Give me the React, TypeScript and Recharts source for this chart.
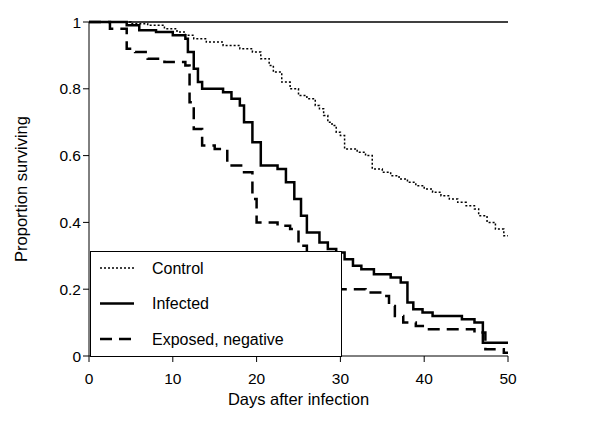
import { LineChart, Line, XAxis, YAxis, ReferenceLine } from "recharts";

// Kaplan-Meier style survival curves
const control = [
  { day: 0, p: 1 }, { day: 5, p: 0.995 }, { day: 7, p: 0.99 }, { day: 9, p: 0.98 },
  { day: 10.5, p: 0.97 }, { day: 11.5, p: 0.96 }, { day: 12.5, p: 0.95 }, { day: 14, p: 0.94 },
  { day: 16, p: 0.93 }, { day: 18, p: 0.92 }, { day: 19.5, p: 0.91 }, { day: 20.5, p: 0.89 },
  { day: 21.5, p: 0.87 }, { day: 22, p: 0.85 }, { day: 23, p: 0.82 }, { day: 24, p: 0.8 },
  { day: 25, p: 0.78 }, { day: 26, p: 0.77 }, { day: 27, p: 0.75 }, { day: 27.5, p: 0.74 },
  { day: 28, p: 0.72 }, { day: 28.5, p: 0.7 }, { day: 29, p: 0.69 }, { day: 29.5, p: 0.67 },
  { day: 30, p: 0.66 }, { day: 30.5, p: 0.62 }, { day: 32, p: 0.61 }, { day: 33, p: 0.6 },
  { day: 33.8, p: 0.56 }, { day: 35, p: 0.55 }, { day: 36, p: 0.54 }, { day: 37, p: 0.53 },
  { day: 38, p: 0.52 }, { day: 39, p: 0.51 }, { day: 40, p: 0.5 }, { day: 41, p: 0.49 },
  { day: 42, p: 0.48 }, { day: 43, p: 0.47 }, { day: 44, p: 0.46 }, { day: 45, p: 0.45 },
  { day: 46, p: 0.44 }, { day: 46.5, p: 0.42 }, { day: 47.5, p: 0.4 }, { day: 48.5, p: 0.38 },
  { day: 49.5, p: 0.36 }, { day: 50, p: 0.36 },
];

const infected = [
  { day: 0, p: 1 }, { day: 4.5, p: 0.99 }, { day: 6, p: 0.975 }, { day: 8, p: 0.97 },
  { day: 10, p: 0.96 }, { day: 11.5, p: 0.95 }, { day: 11.8, p: 0.91 }, { day: 12.5, p: 0.86 },
  { day: 13, p: 0.82 }, { day: 13.5, p: 0.8 }, { day: 16, p: 0.79 }, { day: 17, p: 0.77 },
  { day: 18, p: 0.75 }, { day: 18.5, p: 0.7 }, { day: 19.5, p: 0.64 }, { day: 20.5, p: 0.57 },
  { day: 22.5, p: 0.56 }, { day: 23.5, p: 0.52 }, { day: 24.5, p: 0.47 }, { day: 25.3, p: 0.42 },
  { day: 26, p: 0.37 }, { day: 27.5, p: 0.34 }, { day: 28.5, p: 0.32 }, { day: 29.5, p: 0.31 },
  { day: 30.5, p: 0.29 }, { day: 31.5, p: 0.27 }, { day: 32.5, p: 0.26 }, { day: 34, p: 0.245 },
  { day: 36, p: 0.235 }, { day: 37.2, p: 0.22 }, { day: 38, p: 0.16 }, { day: 38.7, p: 0.14 },
  { day: 39.8, p: 0.13 }, { day: 41, p: 0.12 }, { day: 44.5, p: 0.11 }, { day: 46, p: 0.1 },
  { day: 47, p: 0.04 }, { day: 50, p: 0.04 },
];

const exposed = [
  { day: 0, p: 1 }, { day: 2.5, p: 0.98 }, { day: 4.5, p: 0.92 }, { day: 5.5, p: 0.91 },
  { day: 7, p: 0.89 }, { day: 9, p: 0.88 }, { day: 11.5, p: 0.87 }, { day: 12, p: 0.76 },
  { day: 12.5, p: 0.68 }, { day: 13.5, p: 0.63 }, { day: 15, p: 0.62 }, { day: 16.5, p: 0.57 },
  { day: 18.5, p: 0.55 }, { day: 19.5, p: 0.47 }, { day: 20, p: 0.4 }, { day: 22.5, p: 0.39 },
  { day: 24, p: 0.38 }, { day: 25, p: 0.33 }, { day: 26, p: 0.29 }, { day: 28, p: 0.27 },
  { day: 29, p: 0.21 }, { day: 29.5, p: 0.2 }, { day: 33, p: 0.19 }, { day: 35, p: 0.18 },
  { day: 35.8, p: 0.15 }, { day: 36.5, p: 0.12 }, { day: 37.5, p: 0.1 }, { day: 39, p: 0.09 },
  { day: 40, p: 0.08 }, { day: 46, p: 0.07 }, { day: 47.3, p: 0.02 }, { day: 49.5, p: 0.01 },
  { day: 50, p: 0.01 },
];

const xTicks = [0, 10, 20, 30, 40, 50];
const yTicks = [0, 0.2, 0.4, 0.6, 0.8, 1];

const seriesLegend = [
  { name: "Control", dash: "2 2", width: 1.5 },
  { name: "Infected", dash: undefined, width: 2.5 },
  { name: "Exposed, negative", dash: "12 7", width: 2.5 },
];

const font = "'Liberation Sans', Arial, sans-serif";

// legend drawn as an overlay, so it does not take space from the plot
const LegendBox = () => (
  <svg width={252} height={106} style={{ position: "absolute", left: 90, top: 251 }}>
    <rect x={0.5} y={0.5} width={251} height={105} fill="#fff" stroke="#000" strokeWidth={1} />
    {seriesLegend.map((s, i) => (
      <g key={s.name}>
        <line x1={10} x2={44} y1={17 + i * 35.5} y2={17 + i * 35.5} stroke="#000"
          strokeWidth={s.width} strokeDasharray={s.dash} />
        <text x={62} y={17 + i * 35.5} dy="0.35em" fontSize={16} fontFamily={font} fill="#000">
          {s.name}
        </text>
      </g>
    ))}
  </svg>
);

export default function App() {
  return (
    <div style={{ position: "absolute", left: 0, top: 0, width: 600, height: 427, background: "#fff" }}>
      <LineChart width={600} height={427} margin={{ top: 22, right: 92, left: 39, bottom: 41 }}>
        <XAxis
          dataKey="day"
          type="number"
          domain={[0, 50]}
          ticks={xTicks}
          allowDataOverflow
          height={30}
          tickSize={6}
          tickMargin={11}
          stroke="#000"
          tick={{ fill: "#000", fontSize: 15.5, fontFamily: font }}
          label={{ value: "Days after infection", position: "insideBottom", offset: -19, fill: "#000", fontSize: 16.5, fontFamily: font }}
        />
        <YAxis
          type="number"
          domain={[0, 1]}
          ticks={yTicks}
          width={50}
          tickSize={6}
          stroke="#000"
          tickFormatter={(v: number) => String(v)}
          tick={{ fill: "#000", fontSize: 15.5, fontFamily: font }}
          label={{ value: "Proportion surviving", angle: -90, position: "insideLeft", offset: -18, fill: "#000", fontSize: 16.5, fontFamily: font, style: { textAnchor: "middle" } }}
        />
        <ReferenceLine y={1} stroke="#000" strokeWidth={1.5} />
        <Line data={control} dataKey="p" type="stepAfter" stroke="#000" strokeWidth={1.5}
          strokeDasharray="2 2" dot={false} isAnimationActive={false} name="Control" />
        <Line data={infected} dataKey="p" type="stepAfter" stroke="#000" strokeWidth={2.5}
          dot={false} isAnimationActive={false} name="Infected" />
        <Line data={exposed} dataKey="p" type="stepAfter" stroke="#000" strokeWidth={2.5}
          strokeDasharray="12 7" dot={false} isAnimationActive={false} name="Exposed, negative" />
      </LineChart>
      <LegendBox />
    </div>
  );
}
